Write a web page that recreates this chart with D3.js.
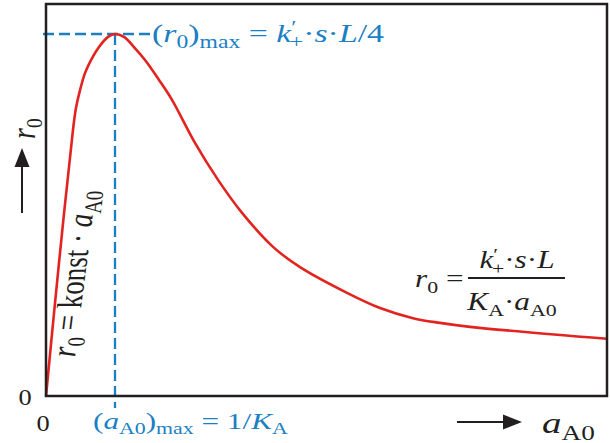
<!DOCTYPE html>
<html>
<head>
<meta charset="utf-8">
<script src="https://cdn.jsdelivr.net/npm/d3@7"></script>
<style>
  html, body { margin: 0; padding: 0; background: #fff; }
  svg { display: block; }
  text { font-family: "Liberation Serif", "Times New Roman", serif; }
</style>
</head>
<body>
<svg id="chart" width="610" height="443"></svg>
<script>
// Initial rate r0 versus initial activity aA0 (normalised: peak at aA0 = 1/KA, r0 = 1)
const aA0 = [0, 0.188, 0.391, 0.435, 0.493, 0.565, 0.652, 0.768, 0.899, 1.0, 1.130, 1.275, 1.435, 1.638, 1.826, 2.159, 2.493, 2.841, 3.290, 3.681, 4.362, 4.841, 5.319, 5.710, 6.145, 8.130];
const r0  = [0, 0.367, 0.735, 0.796, 0.845, 0.892, 0.928, 0.964, 0.992, 1.0, 0.992, 0.964, 0.928, 0.873, 0.818, 0.699, 0.597, 0.506, 0.412, 0.356, 0.285, 0.243, 0.215, 0.202, 0.191, 0.158];
const xTickLabels = ["0"];
const yTickLabels = ["0"];

const BLUE = "#1b7fc4", RED = "#e2231f", INK = "#231f20";

const svg = d3.select("#chart");
const box = { left: 46, right: 607, top: 4, bottom: 396 };

const x = d3.scaleLinear().domain([0, 8.13]).range([box.left, box.right]);
const y = d3.scaleLinear().domain([0, 1]).range([box.bottom, 34]);

const pts = aA0.map((a, i) => [a, r0[i]]);
const peak = pts[d3.maxIndex(r0)];

// guide lines to the maximum
svg.append("line")
  .attr("x1", box.left - 3).attr("x2", x(peak[0]) + 36)
  .attr("y1", y(peak[1])).attr("y2", y(peak[1]))
  .attr("stroke", BLUE).attr("stroke-width", 2.3).attr("stroke-dasharray", "11,5");
svg.append("line")
  .attr("x1", x(peak[0])).attr("x2", x(peak[0]))
  .attr("y1", y(peak[1])).attr("y2", box.bottom + 12)
  .attr("stroke", BLUE).attr("stroke-width", 2.3).attr("stroke-dasharray", "11,5");

// curve
const line = d3.line().x(d => x(d[0])).y(d => y(d[1])).curve(d3.curveCatmullRom.alpha(0.5));
svg.append("path").datum(pts)
  .attr("d", line)
  .attr("fill", "none").attr("stroke", RED).attr("stroke-width", 2.6)
  .attr("stroke-linejoin", "round");

// frame
svg.append("rect")
  .attr("x", box.left).attr("y", box.top)
  .attr("width", box.right - box.left).attr("height", box.bottom - box.top)
  .attr("fill", "none").attr("stroke", INK).attr("stroke-width", 2.5);

// rich math text: parts = [text, italic?, shift ('sub'|'sup'|null), dx]
function mathText(parent, parts, size, fill) {
  const t = parent.append("text").attr("font-size", size).attr("fill", fill);
  let cur = 0;
  parts.forEach(p => {
    const [str, ital, shift, dx] = p;
    const target = shift === "sub" ? size * 0.22 : shift === "sup" ? -size * 0.32 : 0;
    const ts = t.append("tspan").text(str)
      .attr("dy", target - cur)
      .attr("font-size", shift ? size * 0.7 : size)
      .attr("font-style", ital ? "italic" : "normal");
    if (dx) ts.attr("dx", dx);
    cur = target;
  });
  return t;
}
const place = (tx, ty, sx, extra) =>
  svg.append("g").attr("transform", `translate(${tx},${ty}) ${extra || ""} scale(${sx},1)`);

// tick labels "0"
place(25, 405, 1.15).append("text").text(yTickLabels[0])
  .attr("text-anchor", "middle").attr("font-size", 23).attr("fill", INK);
place(43, 431, 1.15).append("text").text(xTickLabels[0])
  .attr("text-anchor", "middle").attr("font-size", 23).attr("fill", INK);

// (r0)max label
mathText(place(152, 42, 1.3), [
  ["(", false, null], ["r", true, null], ["0", false, "sub"], [")", false, null],
  ["max", false, "sub"], [" = ", false, null], ["k", true, null], ["′", false, "sup"],
  ["+", false, "sub", -5], ["·", false, null], ["s", true, null], ["·", false, null],
  ["L", true, null], ["/4", false, null]
], 26, BLUE);

// (aA0)max label
mathText(place(93, 429, 1.3), [
  ["(", false, null], ["a", true, null], ["A0", false, "sub"], [")", false, null],
  ["max", false, "sub"], [" = 1/", false, null], ["K", true, null], ["A", false, "sub"]
], 24, BLUE);

// linear region label along the rising flank (upright glyphs, sheared baseline)
mathText(svg.append("g").attr("transform", "translate(75,357) matrix(0.125,-1,1.3,0,0,0)"), [
  ["r", true, null], ["0", false, "sub"], [" = konst · ", false, null],
  ["a", true, null], ["A0", false, "sub"]
], 27, INK);

// asymptotic region label
mathText(place(415, 287, 1.25), [
  ["r", true, null], ["0", false, "sub"], [" =", false, null]
], 25, INK);
svg.append("line").attr("x1", 468).attr("x2", 565).attr("y1", 278).attr("y2", 278)
  .attr("stroke", INK).attr("stroke-width", 2);
mathText(place(517, 268, 1.25), [
  ["k", true, null], ["′", false, "sup"], ["+", false, "sub", -5], ["·", false, null],
  ["s", true, null], ["·", false, null], ["L", true, null]
], 25, INK).attr("text-anchor", "middle");
mathText(place(512, 310, 1.25), [
  ["K", true, null], ["A", false, "sub"], ["·", false, null],
  ["a", true, null], ["A0", false, "sub"]
], 25, INK).attr("text-anchor", "middle");

// axis titles with arrows
const arrow = (x1, y1, x2, y2) => {
  const ang = Math.atan2(y2 - y1, x2 - x1), L = 19, W = 7.5;
  const bx = x2 - L * Math.cos(ang), by = y2 - L * Math.sin(ang);
  svg.append("line").attr("x1", x1).attr("y1", y1).attr("x2", bx).attr("y2", by)
    .attr("stroke", INK).attr("stroke-width", 2);
  svg.append("path").attr("fill", INK).attr("d",
    `M${x2},${y2}L${bx - W * Math.sin(ang)},${by + W * Math.cos(ang)}` +
    `L${bx + W * Math.sin(ang)},${by - W * Math.cos(ang)}Z`);
};
arrow(22, 213, 22, 148);
arrow(457, 422, 522, 422);

mathText(svg.append("g").attr("transform", "translate(35,139) matrix(0,-1,1.2,0,0,0)"), [
  ["r", true, null], ["0", false, "sub"]
], 28, INK);
mathText(place(542, 433, 1.3), [
  ["a", true, null], ["A0", false, "sub"]
], 30, INK);
</script>
</body>
</html>
